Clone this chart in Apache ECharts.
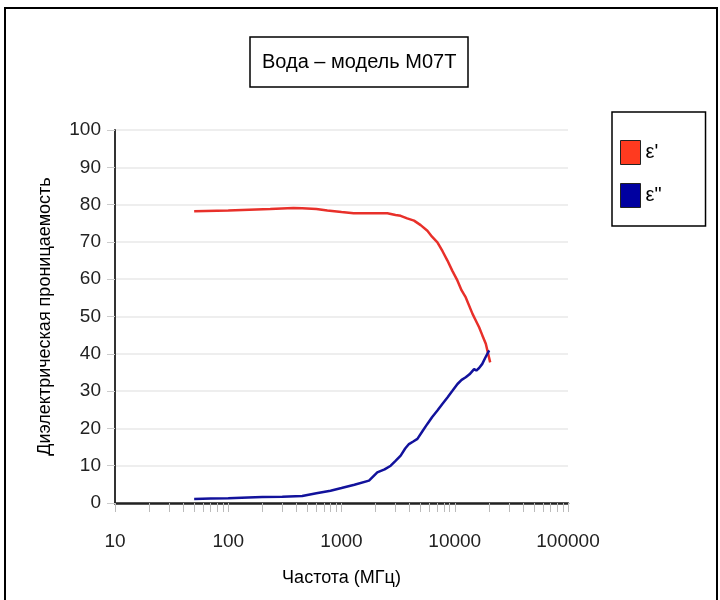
<!DOCTYPE html>
<html>
<head>
<meta charset="utf-8">
<script src="https://cdn.jsdelivr.net/npm/echarts@6/dist/echarts.min.js"></script>
<style>
  html, body { margin: 0; padding: 0; background: #fff; }
  #graph { width: 720px; height: 600px; }
</style>
</head>
<body>
<div id="graph"></div>
<script>
// частота, МГц и значения ε' / ε''
const freqReal = [50, 100, 235, 376, 450, 600, 750, 1000, 1280, 1800, 2540, 3000, 3330, 3800, 4370, 5000, 5730, 6300, 7030, 7800, 8620, 9500, 10570, 11500, 12510, 14350, 15880, 16410, 17500, 18800, 20550];
const epsReal = [78.2, 78.4, 78.8, 79.1, 79.0, 78.8, 78.4, 78.0, 77.7, 77.7, 77.7, 77.2, 77.0, 76.3, 75.7, 74.5, 73.0, 71.4, 69.9, 67.5, 65.0, 62.3, 59.6, 57.0, 55.1, 50.7, 48.0, 47.1, 45.0, 42.7, 37.7];

const freqImag = [50, 70, 100, 150, 200, 300, 450, 600, 800, 1000, 1300, 1750, 2070, 2400, 2720, 3000, 3330, 3650, 3940, 4300, 4680, 5200, 5730, 6300, 7030, 7800, 8620, 9500, 10570, 11500, 12510, 13500, 14820, 15500, 16410, 17500, 18500, 20130];
const epsImag = [1.1, 1.2, 1.3, 1.5, 1.6, 1.7, 1.9, 2.6, 3.3, 4.0, 4.9, 6.0, 8.2, 9.0, 10.0, 11.3, 12.7, 14.6, 15.8, 16.5, 17.2, 19.3, 21.2, 23.0, 24.8, 26.6, 28.3, 30.0, 31.9, 33.0, 33.7, 34.5, 35.9, 35.5, 36.2, 37.3, 38.8, 40.9];

const seriesNames = ["ε'", 'ε"'];
const xTicks = [10, 100, 1000, 10000, 100000];
const yTicks = [0, 10, 20, 30, 40, 50, 60, 70, 80, 90, 100];

// деления на логарифмической оси (в десятичных логарифмах)
let minorTicks = [];
for (let k = 1; k < 5; k++) {
  for (let m = 1; m < 10; m++) {
    minorTicks.push(Math.log10(m * Math.pow(10, k)));
  }
}
minorTicks.push(5);

let myChart = echarts.init(document.getElementById('graph'));
myChart.setOption({
  backgroundColor: '#fff',
  animation: false,
  textStyle: {fontFamily: 'Liberation Sans, Arial, sans-serif'},
  title: {
    text: 'Вода – модель M07T',
    left: 250,
    top: 37,
    padding: [15, 12],
    borderColor: '#000',
    borderWidth: 1.5,
    textStyle: {fontSize: 20, fontWeight: 'normal', color: '#000'}
  },
  legend: {
    orient: 'vertical',
    left: 612,
    top: 112,
    padding: [28, 44, 18, 8],
    borderColor: '#000',
    borderWidth: 1.5,
    icon: 'rect',
    itemWidth: 20,
    itemHeight: 24,
    itemGap: 18,
    itemStyle: {borderColor: '#222', borderWidth: 1},
    textStyle: {fontSize: 20, color: '#000'},
    data: seriesNames
  },
  graphic: [{
    type: 'rect',
    shape: {x: 5, y: 8, width: 712, height: 600},
    style: {fill: 'none', stroke: '#000', lineWidth: 2},
    silent: true
  }],
  grid: {left: 115, right: 152, top: 130, bottom: 97},
  xAxis: [
    {
      type: 'log',
      logBase: 10,
      min: xTicks[0],
      max: xTicks[xTicks.length - 1],
      name: 'Частота (МГц)',
      nameLocation: 'middle',
      nameGap: 66,
      nameTextStyle: {fontSize: 18, color: '#000'},
      axisLine: {lineStyle: {color: '#222', width: 2.5}},
      axisTick: {show: false},
      axisLabel: {fontSize: 19, color: '#222', margin: 29, formatter: v => String(v)},
      splitLine: {show: false}
    },
    {
      type: 'value',
      min: 1,
      max: 5,
      position: 'bottom',
      axisLine: {show: false},
      axisLabel: {show: false},
      axisTick: {show: true, customValues: minorTicks, length: 9, lineStyle: {color: '#bbb', width: 1}},
      splitLine: {show: false}
    }
  ],
  yAxis: {
    type: 'value',
    min: yTicks[0],
    max: yTicks[yTicks.length - 1],
    interval: 10,
    name: 'Диэлектрическая проницаемость',
    nameLocation: 'middle',
    nameGap: 61,
    nameTextStyle: {fontSize: 18, color: '#000'},
    axisLine: {show: true, lineStyle: {color: '#333', width: 2}},
    axisTick: {show: true, length: 8, lineStyle: {color: '#ccc'}},
    axisLabel: {fontSize: 19, color: '#222', margin: 14},
    splitLine: {lineStyle: {color: '#e8e8e8', width: 1.5}}
  },
  series: [
    {
      name: seriesNames[0],
      type: 'line',
      showSymbol: false,
      itemStyle: {color: '#ff3a1f'},
      lineStyle: {color: '#e8302a', width: 2.5},
      data: freqReal.map((f, i) => [f, epsReal[i]])
    },
    {
      name: seriesNames[1],
      type: 'line',
      showSymbol: false,
      itemStyle: {color: '#0000a0'},
      lineStyle: {color: '#12129c', width: 2.5},
      data: freqImag.map((f, i) => [f, epsImag[i]])
    }
  ]
});
</script>
</body>
</html>
